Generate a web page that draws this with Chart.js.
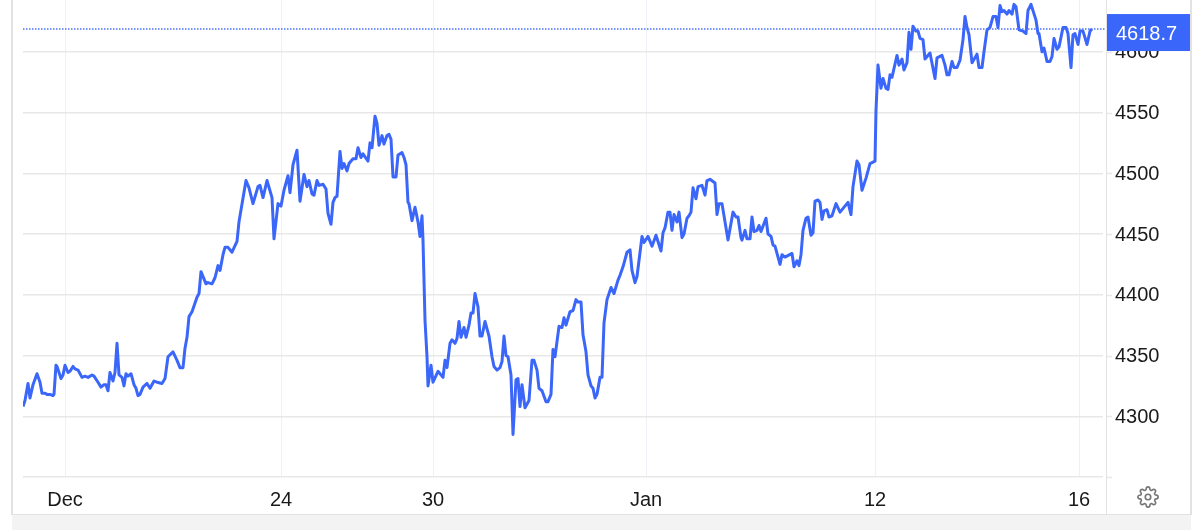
<!DOCTYPE html>
<html>
<head>
<meta charset="utf-8">
<style>
  html, body { margin: 0; padding: 0; background: #fff; overflow: hidden; }
  #wrap { position: relative; width: 1200px; height: 530px; }
  #priceChart { position: absolute; left: 0; top: 0; }
  .edge { position: absolute; background: #e2e2e2; }
  #band { position: absolute; left: 12px; top: 515px; width: 1179px; height: 15px; background: #f3f3f3; }
  #gear { position: absolute; left: 1137px; top: 486px; width: 22px; height: 22px; }
</style>
</head>
<body>
<div id="wrap">
  <canvas id="priceChart" width="1200" height="530"></canvas>
  <div class="edge" style="left:11px;top:0;width:1.5px;height:515px"></div>
  <div class="edge" style="left:1190px;top:0;width:2px;height:515px"></div>
  <div class="edge" style="left:1105.5px;top:0;width:1px;height:515px"></div>
  <div class="edge" style="left:12px;top:514px;width:1179px;height:1px"></div>
  <div id="band"></div>
  <svg id="gear" viewBox="0 0 24 24" fill="none" stroke="#777" stroke-width="1.8">
    <circle cx="12" cy="12" r="3"/>
    <path d="M19.4 15a1.65 1.65 0 0 0 .33 1.82l.06.06a2 2 0 0 1 0 2.83 2 2 0 0 1-2.83 0l-.06-.06a1.65 1.65 0 0 0-1.82-.33 1.65 1.65 0 0 0-1 1.51V21a2 2 0 0 1-2 2 2 2 0 0 1-2-2v-.09A1.65 1.65 0 0 0 9 19.4a1.65 1.65 0 0 0-1.82.33l-.06.06a2 2 0 0 1-2.83 0 2 2 0 0 1 0-2.83l.06-.06a1.65 1.65 0 0 0 .33-1.82 1.65 1.65 0 0 0-1.51-1H3a2 2 0 0 1-2-2 2 2 0 0 1 2-2h.09A1.65 1.65 0 0 0 4.6 9a1.65 1.65 0 0 0-.33-1.82l-.06-.06a2 2 0 0 1 0-2.83 2 2 0 0 1 2.83 0l.06.06a1.65 1.65 0 0 0 1.82.33H9a1.65 1.65 0 0 0 1-1.51V3a2 2 0 0 1 2-2 2 2 0 0 1 2 2v.09a1.65 1.65 0 0 0 1 1.51 1.65 1.65 0 0 0 1.82-.33l.06-.06a2 2 0 0 1 2.83 0 2 2 0 0 1 0 2.83l-.06.06a1.65 1.65 0 0 0-.33 1.82V9a1.65 1.65 0 0 0 1.51 1H21a2 2 0 0 1 2 2 2 2 0 0 1-2 2h-.09a1.65 1.65 0 0 0-1.51 1z"/>
  </svg>
</div>
<script src="https://cdn.jsdelivr.net/npm/chart.js@4/dist/chart.umd.min.js"></script>
<script>
// time along the axis
const times = [
  0,2,5,7,10,14,17,19,22,24,27,30,31,33,34,38,40,42,45,47,50,52,55,59,62,65,69,71,75,78,81,83,85,87,90,92,94,96,99,101,
  103,105,108,111,113,115,117,120,124,127,131,134,139,142,145,150,154,157,160,162,164,166,169,174,176,178,183,185,189,192,
  195,197,200,202,205,209,214,216,223,226,230,235,237,240,244,249,251,255,258,261,265,267,270,274,277,281,284,286,289,291,294,296,300,
  303,305,308,310,312,314,317,319,321,324,326,330,333,335,338,340,345,347,349,352,354,356,359,361,364,366,368,370,373,375,
  379,381,383,385,386,389,392,395,397,399,400,401,402,404,405,408,410,415,420,422,424,427,429,432,434,436,438,441,443,446,
  448,450,452,455,457,459,462,466,469,471,474,477,479,481,483,485,488,490,493,495,497,499,502,506,509,511,514,516,519,523,
  525,528,530,532,536,539,541,543,547,550,553,555,558,560,563,565,568,570,572,574,577,579,581,584,588,591,595,597,600,604,
  607,609,612,614,619,621,625,629,633,638,640,642,645,647,649,651,654,656,659,661,664,666,668,670,673,675,679,682,684,687,
  692,694,696,699,705,710,713,715,718,719,722,724,727,729,731,734,736,738,743,745,748,750,752,757,759,762,769,771,774,776,
  778,780,783,785,788,790,792,795,797,799,801,804,806,809,813,817,825,828,830,834,836,839,843,847,852,853,855,858,860,863,
  865,867,869,874,876,879,881,884,886,888,890,893,895,897,900,902,907,912,914,919,922,924,926,929,931,934,937,940,942,944,
  946,949,954,956,959,961,964,967,970,973,975,977,979,981,984,986,989,991,993,996,1000,1003,1005,1008,1013,1015,1016,1019,
  1021,1024,1027,1029,1031,1034,1036,1040,1043,1045,1048,1050,1052,1055,1057,1060,1064,1067,1069
];
const prices = [
  4308,4313,4327,4315,4326,4335,4328,4319,4319,4318,4318,4317,4318,4342,4341,4331,4334,4342,4336,4337,4341,4339,4338,4332,4333,4332,4334,4333,4328,4324,4326,4326,4321,4336,4329,4336,4360,4334,4332,4325,
  4335,4333,4335,4326,4323,4317,4318,4324,4327,4323,4329,4328,4327,4331,4349,4353,4346,4340,4340,4356,4365,4382,4386,4398,4401,4419,4409,4410,4409,4414,
  4424,4420,4433,4439,4439,4435,4444,4460,4494,4488,4475,4489,4490,4480,4494,4480,4446,4475,4473,4486,4498,4484,4507,4519,4477,4499,4489,4494,4483,4482,4494,4490,4491,
  4487,4467,4458,4476,4480,4481,4518,4504,4508,4502,4508,4512,4512,4521,4513,4516,4510,4525,4521,4547,4541,4523,4531,4524,4531,4532,4528,4497,4497,4515,
  4517,4513,4507,4476,4475,4461,4472,4460,4448,4465,4445,4412,4379,4349,4325,4342,4328,4337,4332,4346,4340,4360,4363,4360,4364,4378,4365,4373,4365,4375,
  4385,4385,4401,4390,4366,4366,4378,4366,4349,4341,4338,4340,4345,4366,4350,4349,4334,4285,4330,4331,4308,4326,4307,4313,4346,4346,4338,4323,4321,4312,
  4312,4318,4355,4349,4374,4373,4381,4375,4386,4387,4396,4394,4394,4367,4353,4334,4325,4323,4315,4318,4332,4332,4377,4396,4406,4401,4412,4416,4423,4435,
  4437,4420,4410,4415,4448,4443,4448,4440,4449,4436,4451,4455,4468,4468,4453,4466,4460,4468,4447,4450,4463,4465,4468,4488,4479,4489,4490,4482,4494,4495,
  4492,4466,4475,4475,4445,4468,4464,4464,4447,4445,4453,4446,4446,4464,4452,4453,4457,4452,4463,4450,4448,4441,4440,4425,4433,4431,4434,4423,4428,4424,
  4433,4453,4463,4464,4449,4451,4477,4478,4476,4462,4469,4470,4464,4465,4475,4468,4476,4466,4489,4510,4507,4486,4496,4508,4510,4552,4589,4570,4578,4570,
  4569,4581,4579,4597,4589,4594,4585,4591,4616,4602,4621,4617,4617,4611,4610,4594,4599,4578,4595,4597,4589,4581,4581,4592,4587,4587,4593,4610,4629,4620,
  4614,4591,4598,4587,4587,4600,4618,4620,4629,4629,4620,4638,4633,4634,4631,4634,4631,4639,4637,4618,4617,4615,4634,4639,4626,4615,4615,4600,
  4603,4592,4592,4596,4611,4602,4604,4620,4620,4615,4587,4614,4615,4606,4617,4617,4606,4617,4618.7
];
const xTickValues = [42, 258, 410, 623, 852, 1056];
const xTickLabels = ['Dec', '24', '30', 'Jan', '12', '16'];
const yTickValues = [4250, 4300, 4350, 4400, 4450, 4500, 4550, 4600];

const BLUE = '#3b66fa';
const FONT = '"Liberation Sans", Arial, sans-serif';
const lastPrice = prices[prices.length - 1];

// dotted last price line, tick stubs on the right and the price tag
const lastPricePlugin = {
    id: 'lastPrice',
    afterDraw(chart) {
        const { ctx, chartArea, scales } = chart;
        ctx.save();
        ctx.strokeStyle = '#e8e8e8';
        ctx.lineWidth = 1.5;
        yTickValues.forEach(v => {
            const y = Math.round(scales.y.getPixelForValue(v)) + 0.5;
            ctx.beginPath();
            ctx.moveTo(1107, y);
            ctx.lineTo(1112, y);
            ctx.stroke();
        });

        const py = scales.y.getPixelForValue(lastPrice);
        ctx.strokeStyle = '#4a72fb';
        ctx.lineWidth = 1.5;
        ctx.setLineDash([1.5, 1.5]);
        ctx.beginPath();
        ctx.moveTo(chartArea.left, Math.round(py));
        ctx.lineTo(1106, Math.round(py));
        ctx.stroke();
        ctx.setLineDash([]);

        ctx.fillStyle = BLUE;
        ctx.fillRect(1106, py - 15, 85, 37);
        ctx.fillStyle = '#fff';
        ctx.font = '20px ' + FONT;
        ctx.textBaseline = 'middle';
        ctx.fillText(lastPrice.toFixed(1), 1116, py + 5);
        ctx.restore();
    }
};

const ctx = document.getElementById('priceChart').getContext('2d');
new Chart(ctx, {
    type: 'line',
    data: {
        datasets: [{
            data: times.map((t, i) => ({ x: t, y: prices[i] })),
            borderColor: BLUE,
            borderWidth: 3,
            borderJoinStyle: 'round',
            pointRadius: 0,
            tension: 0,
            fill: false
        }]
    },
    options: {
        responsive: false,
        animation: false,
        layout: { padding: { left: 23, right: 0, top: 0, bottom: 0 } },
        plugins: { legend: { display: false }, tooltip: { enabled: false } },
        scales: {
            x: {
                type: 'linear',
                min: 0,
                max: 1080,
                afterBuildTicks(scale) {
                    scale.ticks = xTickValues.map(v => ({ value: v }));
                },
                afterFit(scale) {
                    scale.height = 53;
                    scale.paddingLeft = 0;
                    scale.paddingRight = 0;
                },
                grid: { color: '#eef0f5', drawTicks: false },
                border: { display: false },
                ticks: {
                    autoSkip: false,
                    maxRotation: 0,
                    padding: 11,
                    color: '#1a1a1a',
                    font: { family: FONT, size: 20 },
                    callback: (value, i) => xTickLabels[i]
                }
            },
            y: {
                position: 'right',
                min: 4250,
                max: 4642.6,
                afterBuildTicks(scale) {
                    scale.ticks = yTickValues.map(v => ({ value: v }));
                },
                afterFit(scale) {
                    scale.width = 97;
                    scale.paddingTop = 0;
                    scale.paddingBottom = 0;
                },
                grid: { color: '#e8e8e8', lineWidth: 1.5, drawTicks: false },
                border: { display: false },
                ticks: {
                    padding: 12,
                    labelOffset: 1,
                    color: '#1a1a1a',
                    font: { family: FONT, size: 20 },
                    callback: value => (value === 4250 ? '' : String(value))
                }
            }
        }
    },
    plugins: [lastPricePlugin]
});
</script>
</body>
</html>
